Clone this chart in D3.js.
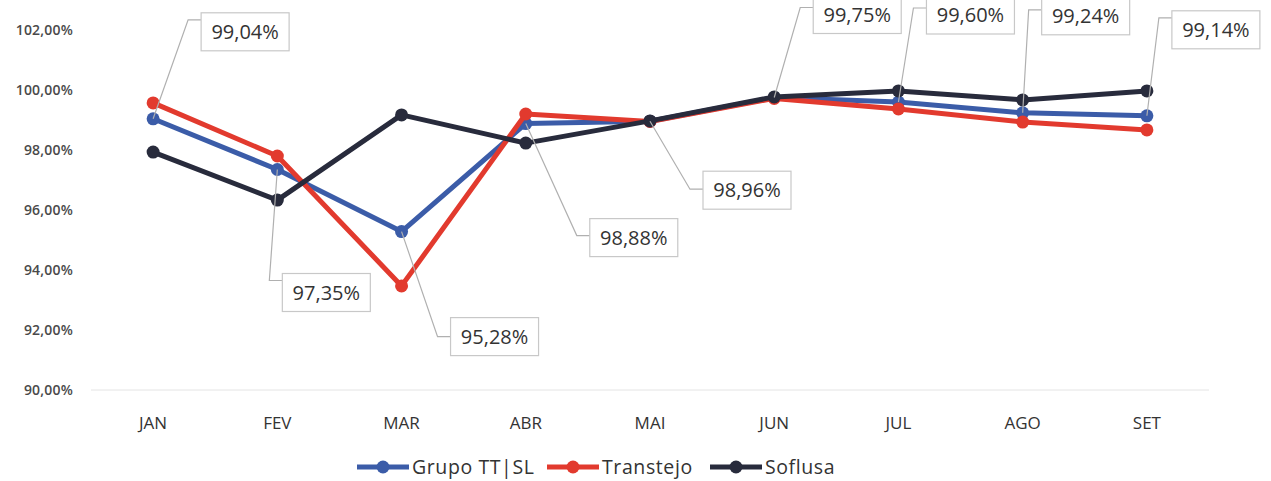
<!DOCTYPE html>
<html>
<head>
<meta charset="utf-8">
<script src="https://cdn.jsdelivr.net/npm/d3@7"></script>
<style>
  html, body { margin: 0; padding: 0; background: #fff; }
  svg { display: block; font-family: "Open Sans", "DejaVu Sans", sans-serif; }
</style>
</head>
<body>
<svg id="chart"></svg>
<script>
// dados
const months = ["JAN", "FEV", "MAR", "ABR", "MAI", "JUN", "JUL", "AGO", "SET"];
const grupo = [99.04, 97.35, 95.28, 98.88, 98.96, 99.75, 99.60, 99.24, 99.14];
const transtejo = [99.57, 97.80, 93.47, 99.20, 98.95, 99.72, 99.37, 98.93, 98.67];
const soflusa = [97.93, 96.33, 99.17, 98.23, 98.97, 99.77, 99.97, 99.67, 99.97];
const yTicks = [90, 92, 94, 96, 98, 100, 102];
const seriesNames = ["Grupo TT|SL", "Transtejo", "Soflusa"];

// posição das caixas de rótulo (relativa ao ponto)
const labelPos = [
  { dx: 48, dy: -87, ly: -99 },
  { dx: 5, dy: 123, ly: 111 },
  { dx: 49, dy: 105, ly: 105 },
  { dx: 64, dy: 114, ly: 112 },
  { dx: 53, dy: 69, ly: 68 },
  { dx: 39, dy: -83, ly: -90 },
  { dx: 28, dy: -87, ly: -94 },
  { dx: 19, dy: -97, ly: -103 },
  { dx: 25, dy: -86, ly: -98 }
];

const width = 1271;
const height = 481;
const colors = ["#3b5ca8", "#e23a2e", "#282b3c"];
const fmt = v => d3.format(".2f")(v).replace(".", ",") + "%";

const svg = d3.select("#chart")
  .attr("width", width)
  .attr("height", height);

const x = d3.scaleBand()
  .domain(months)
  .range([91, 1209])
  .padding(0);
const cx = m => x(m) + x.bandwidth() / 2;

const y = d3.scaleLinear()
  .domain([90, 102])
  .range([390, 30]);

// linha de base
svg.append("line")
  .attr("x1", 91).attr("x2", 1209)
  .attr("y1", y(90)).attr("y2", y(90))
  .attr("stroke", "#e4e4e4")
  .attr("stroke-width", 1);

// eixo Y
svg.append("g")
  .selectAll("text")
  .data(yTicks)
  .enter()
  .append("text")
  .attr("x", 73)
  .attr("y", d => y(d) + 5)
  .attr("text-anchor", "end")
  .attr("font-size", 14)
  .attr("font-weight", 600)
  .attr("letter-spacing", 0.2)
  .attr("fill", "#4a4a4a")
  .text(d => d3.format(".2f")(d).replace(".", ",") + "%");

// eixo X
svg.append("g")
  .selectAll("text")
  .data(months)
  .enter()
  .append("text")
  .attr("x", d => cx(d))
  .attr("y", 429)
  .attr("text-anchor", "middle")
  .attr("font-size", 17)
  .attr("fill", "#333")
  .text(d => d);

const allSeries = [grupo, transtejo, soflusa];

const line = d3.line()
  .x((d, i) => cx(months[i]))
  .y(d => y(d));

allSeries.forEach((s, k) => {
  const g = svg.append("g");
  g.append("path")
    .datum(s)
    .attr("fill", "none")
    .attr("stroke", colors[k])
    .attr("stroke-width", 5)
    .attr("stroke-linejoin", "round")
    .attr("d", line);
  g.selectAll("circle")
    .data(s)
    .enter()
    .append("circle")
    .attr("cx", (d, i) => cx(months[i]))
    .attr("cy", d => y(d))
    .attr("r", 6.5)
    .attr("fill", colors[k]);
});

// rótulos do Grupo TT|SL
const boxW = 88, boxH = 38;
const labels = svg.append("g");
grupo.forEach((v, i) => {
  const px = cx(months[i]);
  const py = y(v);
  const p = labelPos[i];
  const bx = px + p.dx;
  const by = py + p.dy;
  const lyy = py + p.ly;
  labels.append("polyline")
    .attr("points", `${px},${py} ${bx - 13},${lyy} ${bx},${lyy}`)
    .attr("fill", "none")
    .attr("stroke", "#b0b0b0")
    .attr("stroke-width", 1.2);
  labels.append("rect")
    .attr("x", bx)
    .attr("y", by - boxH / 2)
    .attr("width", boxW)
    .attr("height", boxH)
    .attr("fill", "#fff")
    .attr("stroke", "#c8c8c8")
    .attr("stroke-width", 1.2);
  labels.append("text")
    .attr("x", bx + boxW / 2)
    .attr("y", by + 7)
    .attr("text-anchor", "middle")
    .attr("font-size", 20)
    .attr("fill", "#333")
    .text(fmt(v));
});

// legenda
const legendX = [357, 547, 710];
const legend = svg.append("g");
seriesNames.forEach((name, k) => {
  const lx = legendX[k];
  legend.append("line")
    .attr("x1", lx).attr("x2", lx + 52)
    .attr("y1", 467).attr("y2", 467)
    .attr("stroke", colors[k])
    .attr("stroke-width", 5);
  legend.append("circle")
    .attr("cx", lx + 26)
    .attr("cy", 467)
    .attr("r", 6.5)
    .attr("fill", colors[k]);
  legend.append("text")
    .attr("x", lx + 55)
    .attr("y", 474)
    .attr("font-size", 19.5)
    .attr("letter-spacing", 0.6)
    .attr("fill", "#333")
    .text(name);
});
</script>
</body>
</html>
